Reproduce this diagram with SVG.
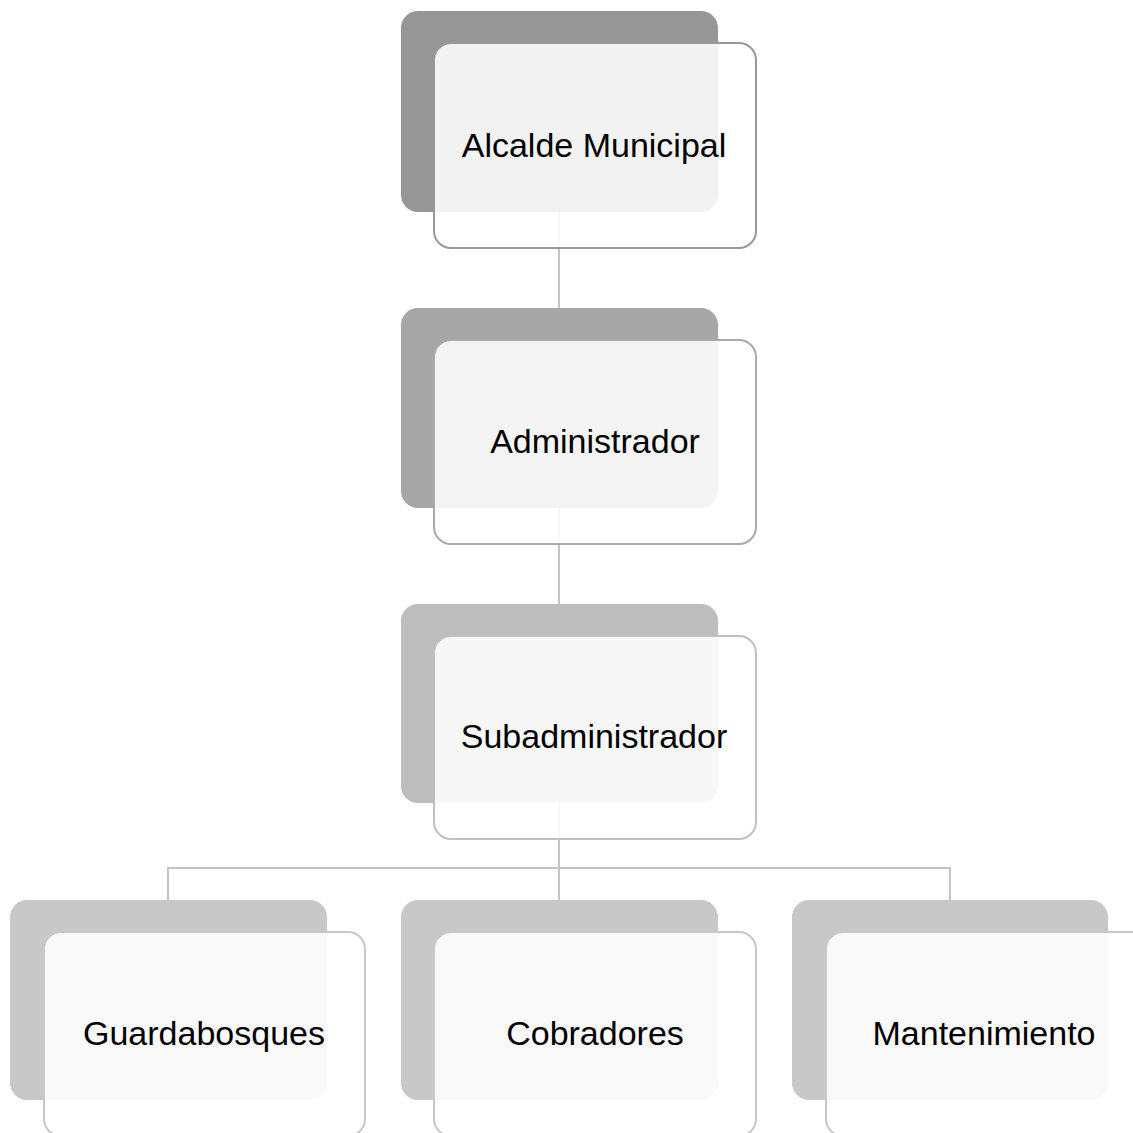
<svg xmlns="http://www.w3.org/2000/svg" width="1133" height="1133" viewBox="0 0 1133 1133">
<style>
.back{stroke:none}
.front{fill:#ffffff;fill-opacity:0.88;stroke-width:2}
.lbl{font-family:"Liberation Sans",Arial,sans-serif;font-size:34px;fill:#000;text-anchor:middle}
.conn{stroke:#c4c4c4;stroke-width:2;fill:none}
</style>
<rect width="1133" height="1133" fill="#ffffff"/>
<g id="connectors">
<line class="conn" x1="559" y1="212" x2="559" y2="308"/>
<line class="conn" x1="559" y1="508" x2="559" y2="604"/>
<path class="conn" d="M559 803 V868 M168 900 V868 H950 V900 M559 868 V900"/>
</g>
<g id="n1">
<rect class="back" x="401" y="11" width="317" height="201" rx="17" fill="#969696"/>
<rect class="front" x="434" y="43" width="322" height="205" rx="17" stroke="#999999"/>
<text class="lbl" x="594" y="157">Alcalde Municipal</text>
</g>
<g id="n2">
<rect class="back" x="401" y="308" width="317" height="200" rx="17" fill="#a6a6a6"/>
<rect class="front" x="434" y="340" width="322" height="204" rx="17" stroke="#aaaaaa"/>
<text class="lbl" x="595" y="453">Administrador</text>
</g>
<g id="n3">
<rect class="back" x="401" y="604" width="317" height="199" rx="17" fill="#bdbdbd"/>
<rect class="front" x="434" y="636" width="322" height="203" rx="17" stroke="#c0c0c0"/>
<text class="lbl" x="594" y="748">Subadministrador</text>
</g>
<g id="n4">
<rect class="back" x="10" y="900" width="317" height="200" rx="17" fill="#c8c8c8"/>
<rect class="front" x="44" y="932" width="321" height="204" rx="17" stroke="#c8c8c8"/>
<text class="lbl" x="204" y="1045">Guardabosques</text>
</g>
<g id="n5">
<rect class="back" x="401" y="900" width="317" height="200" rx="17" fill="#c8c8c8"/>
<rect class="front" x="434" y="932" width="322" height="204" rx="17" stroke="#c8c8c8"/>
<text class="lbl" x="595" y="1045">Cobradores</text>
</g>
<g id="n6">
<rect class="back" x="792" y="900" width="316" height="200" rx="17" fill="#c8c8c8"/>
<rect class="front" x="826" y="932" width="322" height="204" rx="17" stroke="#c8c8c8"/>
<text class="lbl" x="984" y="1045">Mantenimiento</text>
</g>
</svg>
